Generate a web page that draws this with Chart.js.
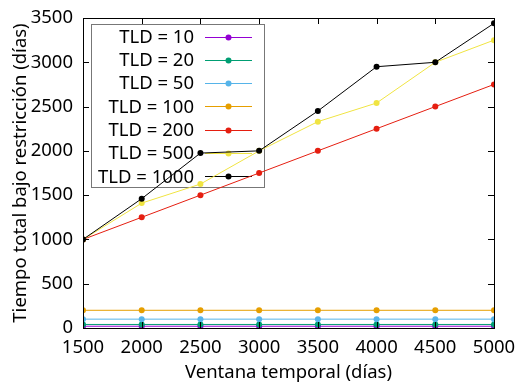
<!DOCTYPE html>
<html>
<head>
<meta charset="utf-8">
<script src="https://cdn.jsdelivr.net/npm/chart.js@4"></script>
<style>
  body { margin: 0; background: #fff; }
  #wrap { width: 520px; height: 385px; }
</style>
</head>
<body>
<div id="wrap"><canvas id="tldchart" width="520" height="385"></canvas></div>
<script>
// Data
var windows = [1500, 2000, 2500, 3000, 3500, 4000, 4500, 5000];
var seriesNames = ['TLD = 10', 'TLD = 20', 'TLD = 50', 'TLD = 100', 'TLD = 200', 'TLD = 500', 'TLD = 1000'];
var tld10   = [20, 20, 20, 20, 20, 20, 20, 20];
var tld20   = [40, 40, 40, 40, 40, 40, 40, 40];
var tld50   = [100, 100, 100, 100, 100, 100, 100, 100];
var tld100  = [200, 200, 200, 200, 200, 200, 200, 200];
var tld200  = [1000, 1250, 1500, 1750, 2000, 2250, 2500, 2750];
var tld500  = [1000, 1410, 1625, 2000, 2330, 2540, 3000, 3250];
var tld1000 = [1000, 1460, 1975, 2000, 2450, 2950, 3000, 3440];
var xTicks = [1500, 2000, 2500, 3000, 3500, 4000, 4500, 5000];
var yTicks = [0, 500, 1000, 1500, 2000, 2500, 3000, 3500];

var colors = ['#9400d3', '#009e73', '#56b4e9', '#e69f00', '#e51e10', '#f0e442', '#000000'];
var allSeries = [tld10, tld20, tld50, tld100, tld200, tld500, tld1000];
var FONT = '"Noto Sans", sans-serif';

function toPoints(vals) {
    return windows.map(function (w, i) { return { x: w, y: vals[i] }; });
}

var datasets = allSeries.map(function (vals, i) {
    return {
        label: seriesNames[i],
        data: toPoints(vals),
        borderColor: colors[i],
        backgroundColor: colors[i],
        borderWidth: 1,
        pointRadius: 3,
        pointBorderWidth: 0,
        pointHoverRadius: 3,
        order: allSeries.length - i
    };
});

// gnuplot-like frame with inward ticks on all four sides
var framePlugin = {
    id: 'frame',
    afterDatasetsDraw: function (chart) {
        var c = chart.ctx, a = chart.chartArea;
        var xs = chart.scales.x, ys = chart.scales.y;
        var t = 6;
        c.save();
        c.strokeStyle = '#000';
        c.lineWidth = 1;
        c.beginPath();
        xTicks.forEach(function (v) {
            var px = Math.round(xs.getPixelForValue(v)) + 0.5;
            c.moveTo(px, a.bottom); c.lineTo(px, a.bottom - t);
            c.moveTo(px, a.top); c.lineTo(px, a.top + t);
        });
        yTicks.forEach(function (v) {
            var py = Math.round(ys.getPixelForValue(v)) + 0.5;
            c.moveTo(a.left, py); c.lineTo(a.left + t, py);
            c.moveTo(a.right, py); c.lineTo(a.right - t, py);
        });
        c.stroke();
        c.strokeRect(Math.round(a.left) + 0.5, Math.round(a.top) + 0.5,
            Math.round(a.right - a.left), Math.round(a.bottom - a.top));
        c.restore();
    }
};

// key box in the top-left corner, text on the left and sample on the right
var keyPlugin = {
    id: 'key',
    beforeDatasetsDraw: function (chart) {
        var c = chart.ctx, a = chart.chartArea;
        var bx = a.left + 8, by = a.top + 6, bw = 173, bh = 163;
        var rowH = 23.3, firstY = by + 12.5;
        var textRight = bx + 103, lineL = bx + 114, lineR = bx + 161;
        c.save();
        c.strokeStyle = '#777';
        c.lineWidth = 1;
        c.strokeRect(Math.round(bx) + 0.5, Math.round(by) + 0.5, bw, bh);
        c.font = '18.5px ' + FONT;
        c.textAlign = 'right';
        c.textBaseline = 'middle';
        chart.data.datasets.forEach(function (ds, i) {
            var y = firstY + i * rowH;
            c.fillStyle = '#000';
            c.fillText(ds.label, textRight, y + 1);
            c.strokeStyle = ds.borderColor;
            c.beginPath();
            c.moveTo(lineL, Math.round(y) + 0.5);
            c.lineTo(lineR, Math.round(y) + 0.5);
            c.stroke();
            c.fillStyle = ds.borderColor;
            c.beginPath();
            c.arc((lineL + lineR) / 2, Math.round(y) + 0.5, 3, 0, Math.PI * 2);
            c.fill();
        });
        c.restore();
    }
};

function plain(v) { return String(v); }

var ctx = document.getElementById('tldchart').getContext('2d');

var tldchart = new Chart(ctx, {
    type: 'line',
    data: { datasets: datasets },
    plugins: [keyPlugin, framePlugin],
    options: {
        responsive: false,
        animation: false,
        layout: { padding: { top: 18, right: 26, left: 0, bottom: 0 } },
        plugins: {
            legend: { display: false },
            tooltip: { enabled: false }
        },
        scales: {
            x: {
                type: 'linear',
                min: 1500,
                max: 5000,
                afterBuildTicks: function (s) { s.ticks = xTicks.map(function (v) { return { value: v }; }); },
                afterFit: function (s) { s.height = 57; s.paddingLeft = 0; s.paddingRight = 0; },
                grid: { display: false, drawTicks: false },
                border: { display: false },
                ticks: { color: '#000', padding: 9, maxRotation: 0, callback: plain, font: { family: FONT, size: 18.5 } },
                title: {
                    display: true,
                    text: 'Ventana temporal (días)',
                    color: '#000',
                    padding: { top: 0, bottom: 1 },
                    font: { family: FONT, size: 18.5 }
                }
            },
            y: {
                min: 0,
                max: 3500,
                afterBuildTicks: function (s) { s.ticks = yTicks.map(function (v) { return { value: v }; }); },
                afterFit: function (s) { s.width = 83; s.paddingTop = 0; s.paddingBottom = 0; },
                grid: { display: false, drawTicks: false },
                border: { display: false },
                ticks: { color: '#000', padding: 10, callback: plain, font: { family: FONT, size: 18.5 } },
                title: {
                    display: true,
                    text: 'Tiempo total bajo restricción (días)',
                    color: '#000',
                    padding: { top: 10, bottom: 0 },
                    font: { family: FONT, size: 18.5 }
                }
            }
        }
    }
});
</script>
</body>
</html>
